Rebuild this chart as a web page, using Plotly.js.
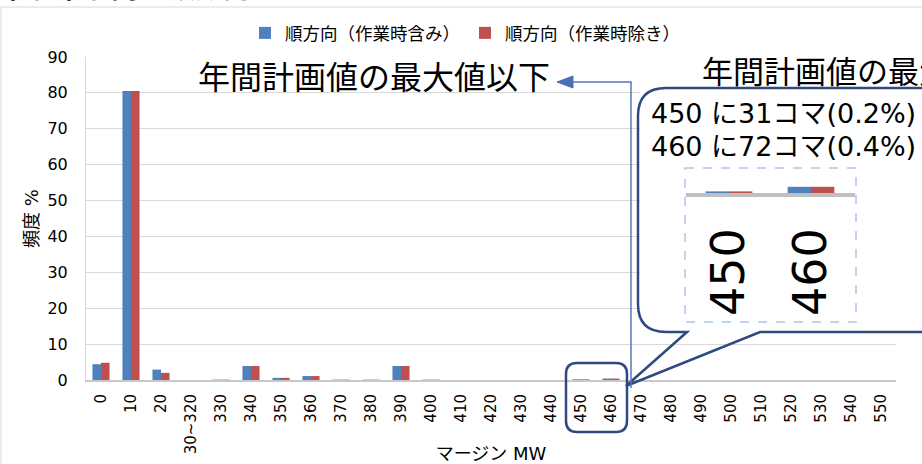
<!DOCTYPE html>
<html>
<head>
<meta charset="utf-8">
<script src="https://cdn.plot.ly/plotly-3.0.1.min.js"></script>
<style>html,body{margin:0;padding:0;background:#fff;}#chart{width:922px;height:464px;}</style>
</head>
<body>
<div id="chart"></div>
<script>
// ---- data ----
const categories = ['0','10','20','30~320','330','340','350','360','370','380','390','400','410','420','430','440','450','460','470','480','490','500','510','520','530','540','550'];
const seriesNames = ['順方向（作業時含み）', '順方向（作業時除き）'];
const withWork    = [4.4, 80.5, 2.9, 0, 0.1, 3.9, 0.6, 1.1, 0.1, 0.1, 3.9, 0.1, 0, 0, 0, 0, 0.18, 0.41, 0, 0, 0, 0, 0, 0, 0, 0, 0];
const withoutWork = [4.8, 80.5, 2.0, 0, 0.1, 3.9, 0.6, 1.1, 0.1, 0.1, 3.9, 0.1, 0, 0, 0, 0, 0.18, 0.41, 0, 0, 0, 0, 0, 0, 0, 0, 0];
const insetCats = ['450', '460'];
const insetWithWork = [0.18, 0.41];
const insetWithoutWork = [0.18, 0.41];
const yTicks = [0,10,20,30,40,50,60,70,80,90];

// ---- layout helpers (pixel -> paper) ----
const L = 86, R = 896, TOP = 57, BOT = 380;
const W = R - L, H = BOT - TOP;
const px = x => (x - L) / W;
const py = y => (BOT - y) / H;
function path(cmds) {
  return cmds.map(c => {
    if (c[0] === 'Z') return 'Z';
    const op = c[0]; const pts = [];
    for (let i = 1; i < c.length; i += 2) pts.push(px(c[i]).toFixed(5) + ',' + py(c[i+1]).toFixed(5));
    return op + pts.join(' ');
  }).join(' ');
}

const FONT = 'DejaVu Sans, "Noto Sans CJK JP", sans-serif';
const BLUE = '#4f81bd', RED = '#c0504d', NAVY = '#2f4a80', ARROW = '#5577bd';

const traces = [
  {type:'bar', name: seriesNames[0], x: categories, y: withWork, marker:{color: BLUE}, hoverinfo:'x+y'},
  {type:'bar', name: seriesNames[1], x: categories, y: withoutWork, marker:{color: RED}, hoverinfo:'x+y'},
  {type:'bar', name: seriesNames[0], x: insetCats, y: insetWithWork, marker:{color: BLUE}, xaxis:'x2', yaxis:'y2', showlegend:false},
  {type:'bar', name: seriesNames[1], x: insetCats, y: insetWithoutWork, marker:{color: RED}, xaxis:'x2', yaxis:'y2', showlegend:false}
];

// inset axis ranges: category spacing 82px, '450' centred at x=729, baseline at y=195
const inL = 640, inR = 896, inT = 90, inB = 330;
const catPx = 82;
const xr0 = -(729 - inL) / catPx;
const xr1 = xr0 + (inR - inL) / catPx;
const yScale = 20; // px per unit
const yr0 = -(inB - 195) / yScale;
const yr1 = (195 - inT) / yScale;

const layout = {
  width: 922, height: 464,
  margin: {l: L, r: 922 - R, t: TOP, b: 464 - BOT},
  paper_bgcolor: '#ffffff', plot_bgcolor: '#ffffff',
  font: {family: FONT, color: '#000000', size: 15},
  barmode: 'group', bargap: 0.43, bargroupgap: 0,
  showlegend: true,
  legend: {orientation: 'h', x: px(465), xanchor: 'center', y: py(33), yanchor: 'middle',
           font: {size: 17.5, family: FONT}, traceorder: 'normal', itemwidth: 30, bgcolor: 'rgba(0,0,0,0)'},
  xaxis: {
    type: 'category', domain: [0, 1], range: [-0.5, categories.length - 0.5],
    tickangle: -90, tickfont: {size: 15, family: FONT}, showgrid: false,
    showline: true, linecolor: '#c8c8c8', linewidth: 2, ticks: '', ticklabelstandoff: 6,
    title: {text: 'マージン MW', font: {size: 18, family: FONT}, standoff: 6},
    fixedrange: true
  },
  yaxis: {
    range: [0, 90], tickvals: yTicks, ticktext: yTicks.map(String), tickfont: {size: 16, family: FONT},
    showgrid: true, gridcolor: '#d9d9d9', gridwidth: 1, zeroline: false,
    showline: true, linecolor: '#d9d9d9', linewidth: 1, ticks: '', ticklabelstandoff: 14,
    title: {text: '頻度 %', font: {size: 18, family: FONT}, standoff: 4},
    fixedrange: true
  },
  xaxis2: {
    type: 'category', domain: [px(inL), px(inR)], range: [xr0, xr1],
    anchor: 'free', position: py(195),
    tickangle: -90, tickfont: {size: 46, family: FONT}, ticks: '', showline: false, showgrid: false,
    zeroline: false, ticklabelstandoff: 23, fixedrange: true
  },
  yaxis2: {
    domain: [py(inB), py(inT)], range: [yr0, yr1], anchor: 'x2',
    visible: false, showgrid: false, zeroline: false, fixedrange: true
  },
  shapes: [
    // outer chart frame
    {type: 'rect', xref: 'paper', yref: 'paper', x0: px(1), x1: px(940), y0: py(7), y1: py(480),
     line: {color: '#d9d9d9', width: 1}, layer: 'below'},
    // speech-bubble callout
    {type: 'path', xref: 'paper', yref: 'paper', layer: 'above',
     path: path([['M',687,332],['L',626,386],['L',760,332],['L',960,332],['L',960,88],['L',666,88],
                 ['Q',638,88,638,116],['L',638,304],['Q',638,332,666,332],['Z']]),
     line: {color: NAVY, width: 2.5}, fillcolor: 'rgba(0,0,0,0)'},
    // rounded rect around 450/460
    {type: 'path', xref: 'paper', yref: 'paper', layer: 'above',
     path: path([['M',577,363],['L',616,363],['Q',627,363,627,374],['L',627,421],['Q',627,432,616,432],
                 ['L',577,432],['Q',566,432,566,421],['L',566,374],['Q',566,363,577,363],['Z']]),
     line: {color: NAVY, width: 2.5}, fillcolor: 'rgba(0,0,0,0)'},
    // arrow line
    {type: 'path', xref: 'paper', yref: 'paper', layer: 'above',
     path: path([['M',631,388],['L',631,82],['L',570,82]]),
     line: {color: ARROW, width: 1.5}},
    // arrow head
    {type: 'path', xref: 'paper', yref: 'paper', layer: 'above',
     path: path([['M',557,82],['L',573,76],['L',573,88],['Z']]),
     line: {color: '#4a6fb8', width: 1}, fillcolor: '#4a6fb8'},
    // inset dashed box
    {type: 'rect', xref: 'paper', yref: 'paper', layer: 'above',
     x0: px(685), x1: px(856), y0: py(168), y1: py(322),
     line: {color: '#a8c6ef', width: 1.5, dash: 'dash'}},
    // inset baseline
    {type: 'line', xref: 'paper', yref: 'paper', layer: 'above',
     x0: px(686), x1: px(855), y0: py(195), y1: py(195),
     line: {color: '#bfbfbf', width: 4}}
  ],
  annotations: [
    {text: '<b>東北東京間（順方向）</b>', xref: 'paper', yref: 'paper', x: px(-3), xanchor: 'left',
     y: py(7), yanchor: 'bottom', showarrow: false, font: {size: 28, family: FONT}},
    {text: '年間計画値の最大値以下', xref: 'paper', yref: 'paper', x: px(552), xanchor: 'right',
     y: py(78), yanchor: 'middle', showarrow: false, font: {size: 32, family: FONT}},
    {text: '年間計画値の最大値以上', xref: 'paper', yref: 'paper', x: px(700), xanchor: 'left',
     y: py(72), yanchor: 'middle', showarrow: false, font: {size: 31, family: FONT}},
    {text: '450 に31コマ(0.2%)', xref: 'paper', yref: 'paper', x: px(649), xanchor: 'left',
     y: py(113), yanchor: 'middle', showarrow: false, font: {size: 27, family: FONT}},
    {text: '460 に72コマ(0.4%)', xref: 'paper', yref: 'paper', x: px(649), xanchor: 'left',
     y: py(146), yanchor: 'middle', showarrow: false, font: {size: 27, family: FONT}}
  ]
};

Plotly.newPlot('chart', traces, layout, {displayModeBar: false, staticPlot: true});
</script>
</body>
</html>
